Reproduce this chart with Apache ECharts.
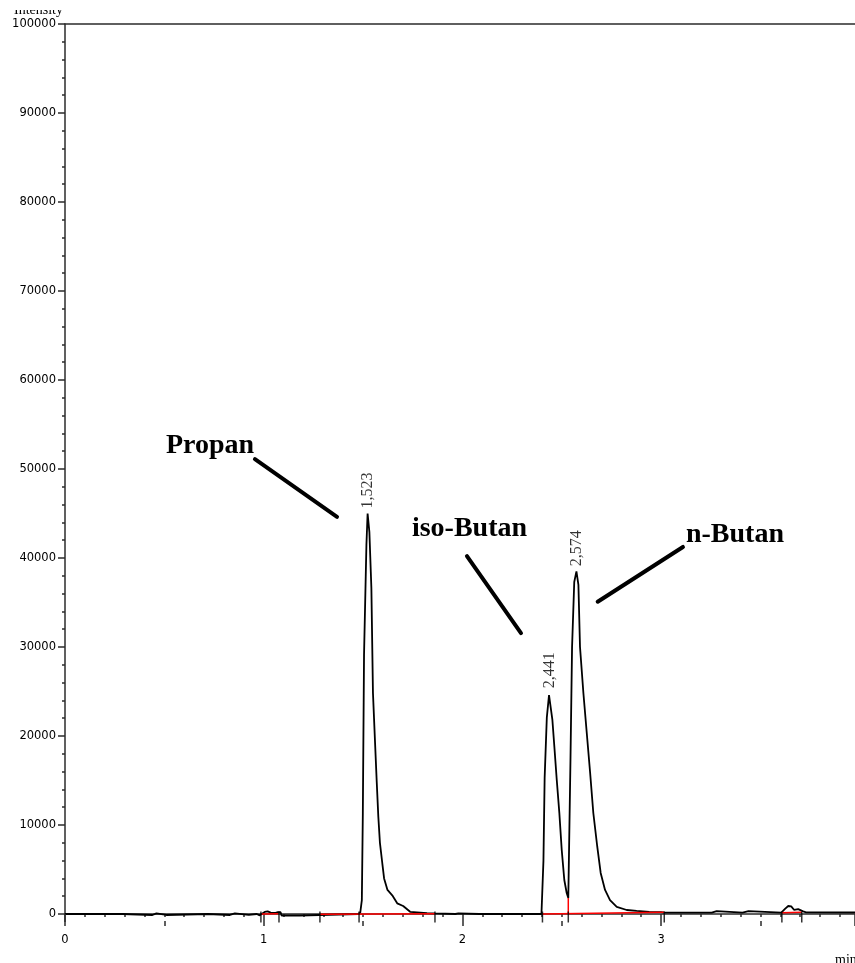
<!DOCTYPE html>
<html>
<head>
<meta charset="utf-8">
<script src="https://cdn.jsdelivr.net/npm/echarts@6/dist/echarts.min.js"></script>
<style>
  html, body { margin: 0; padding: 0; background: #fff; }
  #chart { width: 855px; height: 963px; }
</style>
</head>
<body>
<div id="chart"></div>
<script>
// Detector trace: [retention time (min), intensity]; apexes come from the peak tables below
const trace = [
  [0.000, 0], [0.290, 0], [0.295, -110], [0.440, -110], [0.445, 70], [0.460, 70], [0.465, -110],
  [0.510, -110], [0.515, 0], [0.720, 0], [0.725, -110], [0.830, -110], [0.835, 60], [0.855, 60],
  [0.860, -110], [0.925, -110], [0.930, 0], [0.965, 0], [0.980, -150], [0.992, 20], [1.005, 230],
  [1.020, 300], [1.035, 150], [1.060, 120], [1.072, 220], [1.085, 200], [1.090, -170], [1.180, -170],
  [1.185, -110], [1.280, -110], [1.285, 0], [1.475, 0], [1.486, 150], [1.494, 1570], [1.499, 11350],
  [1.505, 29100], [1.517, 41460],
  [1.532, 42900], [1.542, 36600], [1.550, 24800], [1.560, 19500], [1.569, 14800], [1.577, 10900],
  [1.585, 8000], [1.597, 5700], [1.606, 4000], [1.623, 2700], [1.647, 2100], [1.672, 1200],
  [1.702, 900], [1.737, 250], [1.822, 100], [1.862, 60], [1.870, 0], [1.965, 0], [1.970, 80],
  [1.980, 80], [1.985, 0], [2.085, 0], [2.090, 50], [2.100, 0], [2.398, 0], [2.403, 100],
  [2.408, 6000], [2.414, 15300], [2.425, 22100], [2.436, 24600],
  [2.453, 21800], [2.463, 18760], [2.475, 15060], [2.488, 11350], [2.500, 7190], [2.513, 3820],
  [2.525, 2360], [2.533, 1800], [2.539, 1900], [2.544, 17300], [2.552, 30000], [2.563, 37300],
  [2.584, 36970], [2.592, 30000], [2.609, 24830], [2.626, 20340], [2.643, 15840], [2.659, 11350],
  [2.679, 7530], [2.696, 4610], [2.718, 2700], [2.743, 1570], [2.777, 790], [2.827, 450],
  [2.877, 350], [2.940, 250], [3.000, 220], [3.016, 150], [3.255, 150], [3.260, 320], [3.280, 320],
  [3.285, 150], [3.410, 150], [3.415, 320], [3.440, 320], [3.445, 150], [3.605, 150], [3.625, 600],
  [3.640, 900], [3.655, 850], [3.670, 450], [3.690, 550], [3.700, 650], [3.715, 300], [3.730, 190],
  [3.976, 170]
];

// Integrated peaks
const compounds   = ['Propan', 'iso-Butan', 'n-Butan'];
const peakTimes   = [1.523, 2.441, 2.574];
const peakHeights = [45000, 24800, 38500];

// Integration baselines and the valley drop line
const baselineSegments = [
  [[0.990, 0], [1.075, 30]],
  [[1.283, -20], [1.862, 30]],
  [[2.403, 0], [3.016, 200]],
  [[2.533, 20], [2.533, 1800]],
  [[3.608, 150], [3.708, 200]]
];

// Peak start / end event marks
const eventTimes = [0.986, 1.077, 1.283, 1.480, 1.862, 2.403, 2.533, 3.016, 3.608, 3.708];

// Axes
const xTickLabels = [0, 1, 2, 3];
const timeMax = 3.976;
const yMax = 100000;
const yStep = 10000;

const fullTrace = trace
  .concat(peakTimes.map((t, i) => [t, peakHeights[i]]))
  .sort((a, b) => a[0] - b[0]);

const axisColor = '#2b2b2b';
const tickFont = { fontFamily: 'DejaVu Sans', fontSize: 11.5, color: '#000' };

const chart = echarts.init(document.getElementById('chart'), null, { renderer: 'canvas' });

const option = {
  animation: false,
  backgroundColor: '#fff',
  grid: { left: 65, right: 0, top: 24, bottom: 49, containLabel: false },
  xAxis: [
    {
      type: 'value', min: 0, max: timeMax, interval: 1, offset: 7,
      axisLine: { show: true, lineStyle: { color: axisColor, width: 1.5 } },
      axisTick: { show: true, length: 7, lineStyle: { color: axisColor, width: 1.5 } },
      minorTick: { show: true, splitNumber: 10, length: 3, lineStyle: { color: axisColor, width: 1.5 } },
      splitLine: { show: false },
      axisLabel: Object.assign({ margin: 13, showMaxLabel: false,
        formatter: v => (xTickLabels.includes(v) ? String(v) : '') }, tickFont)
    },
    {
      type: 'value', min: 0, max: timeMax, position: 'top',
      axisLine: { show: true, lineStyle: { color: axisColor, width: 1.5 } },
      axisTick: { show: false }, axisLabel: { show: false }, splitLine: { show: false }
    },
    {
      type: 'value', min: 0, max: timeMax, interval: 0.5, offset: 7, position: 'bottom',
      axisLine: { show: false },
      axisTick: { show: true, length: 5, lineStyle: { color: axisColor, width: 1.5 } },
      axisLabel: { show: false }, splitLine: { show: false }
    }
  ],
  yAxis: {
    type: 'value', min: 0, max: yMax, interval: yStep,
    axisLine: { show: true, lineStyle: { color: axisColor, width: 1.5 } },
    axisTick: { show: true, length: 7, lineStyle: { color: axisColor, width: 1.5 } },
    minorTick: { show: true, splitNumber: 5, length: 3, lineStyle: { color: axisColor, width: 1.5 } },
    splitLine: { show: false },
    axisLabel: Object.assign({ margin: 9, formatter: v => String(v) }, tickFont)
  },
  series: [
    {
      name: 'signal', type: 'line', data: fullTrace, symbol: 'none', clip: false,
      lineStyle: { color: '#000', width: 1.8 }, z: 3
    },
    ...baselineSegments.map((seg, i) => ({
      name: 'baseline' + i, type: 'line', data: seg, symbol: 'none', clip: false,
      lineStyle: { color: '#ff0000', width: 1.5 }, z: 4
    })),
    {
      name: 'events', type: 'scatter', data: eventTimes.map(t => [t, 0]), clip: false,
      symbol: 'rect', symbolSize: [1.5, 11], symbolOffset: [0, 3],
      itemStyle: { color: '#000' }, z: 5, silent: true
    },
    {
      name: 'retention', type: 'scatter', data: peakTimes.map((t, i) => [t, peakHeights[i]]),
      symbolSize: 0, z: 6, silent: true,
      label: {
        show: true, position: 'top', distance: 5, rotate: 90, align: 'left', verticalAlign: 'middle',
        fontFamily: 'Liberation Serif', fontSize: 16, color: '#000',
        formatter: p => p.value[0].toFixed(3).replace('.', ',')
      }
    }
  ]
};

chart.setOption(option);

// Compound annotations with pointer strokes, placed in data space
const annotations = [
  { text: compounds[0], at: [0.508, 52600], from: [0.956, 51120], to: [1.369, 44610] },
  { text: compounds[1], at: [1.746, 43260], from: [2.023, 40220], to: [2.295, 31570] },
  { text: compounds[2], at: [3.125, 42580], from: [3.110, 41240], to: [2.681, 35090] }
];
const px = p => chart.convertToPixel({ xAxisIndex: 0, yAxisIndex: 0 }, p);
const origin = px([0, 0]);
const graphics = [];
annotations.forEach(a => {
  const s = px(a.from), e = px(a.to), t = px(a.at);
  graphics.push({
    type: 'line', shape: { x1: s[0], y1: s[1], x2: e[0], y2: e[1] },
    style: { stroke: '#000', lineWidth: 4, lineCap: 'round' }, z: 10
  });
  graphics.push({
    type: 'text', x: t[0], y: t[1],
    style: { text: a.text, font: 'bold 28px "Liberation Serif"', fill: '#000', align: 'left', verticalAlign: 'middle' },
    z: 10
  });
});
// vertical axis continues down to the offset time axis
graphics.push({
  type: 'line', shape: { x1: origin[0], y1: origin[1], x2: origin[0], y2: origin[1] + 8 },
  style: { stroke: axisColor, lineWidth: 1.5 }, z: 10
});
// axis titles
graphics.push({
  type: 'text', x: origin[0] - 2, y: 17,
  style: { text: 'Intensity', font: '14px "Liberation Serif"', fill: '#000', align: 'right', verticalAlign: 'bottom' },
  z: 10
});
graphics.push({ type: 'rect', shape: { x: 0, y: 0, width: origin[0] - 1, height: 10 }, style: { fill: '#fff' }, z: 11 });
graphics.push({
  type: 'text', x: 835, y: 967,
  style: { text: 'min', font: '14px "Liberation Serif"', fill: '#000', align: 'left', verticalAlign: 'bottom' },
  z: 10
});
chart.setOption({ graphic: graphics });
</script>
</body>
</html>
